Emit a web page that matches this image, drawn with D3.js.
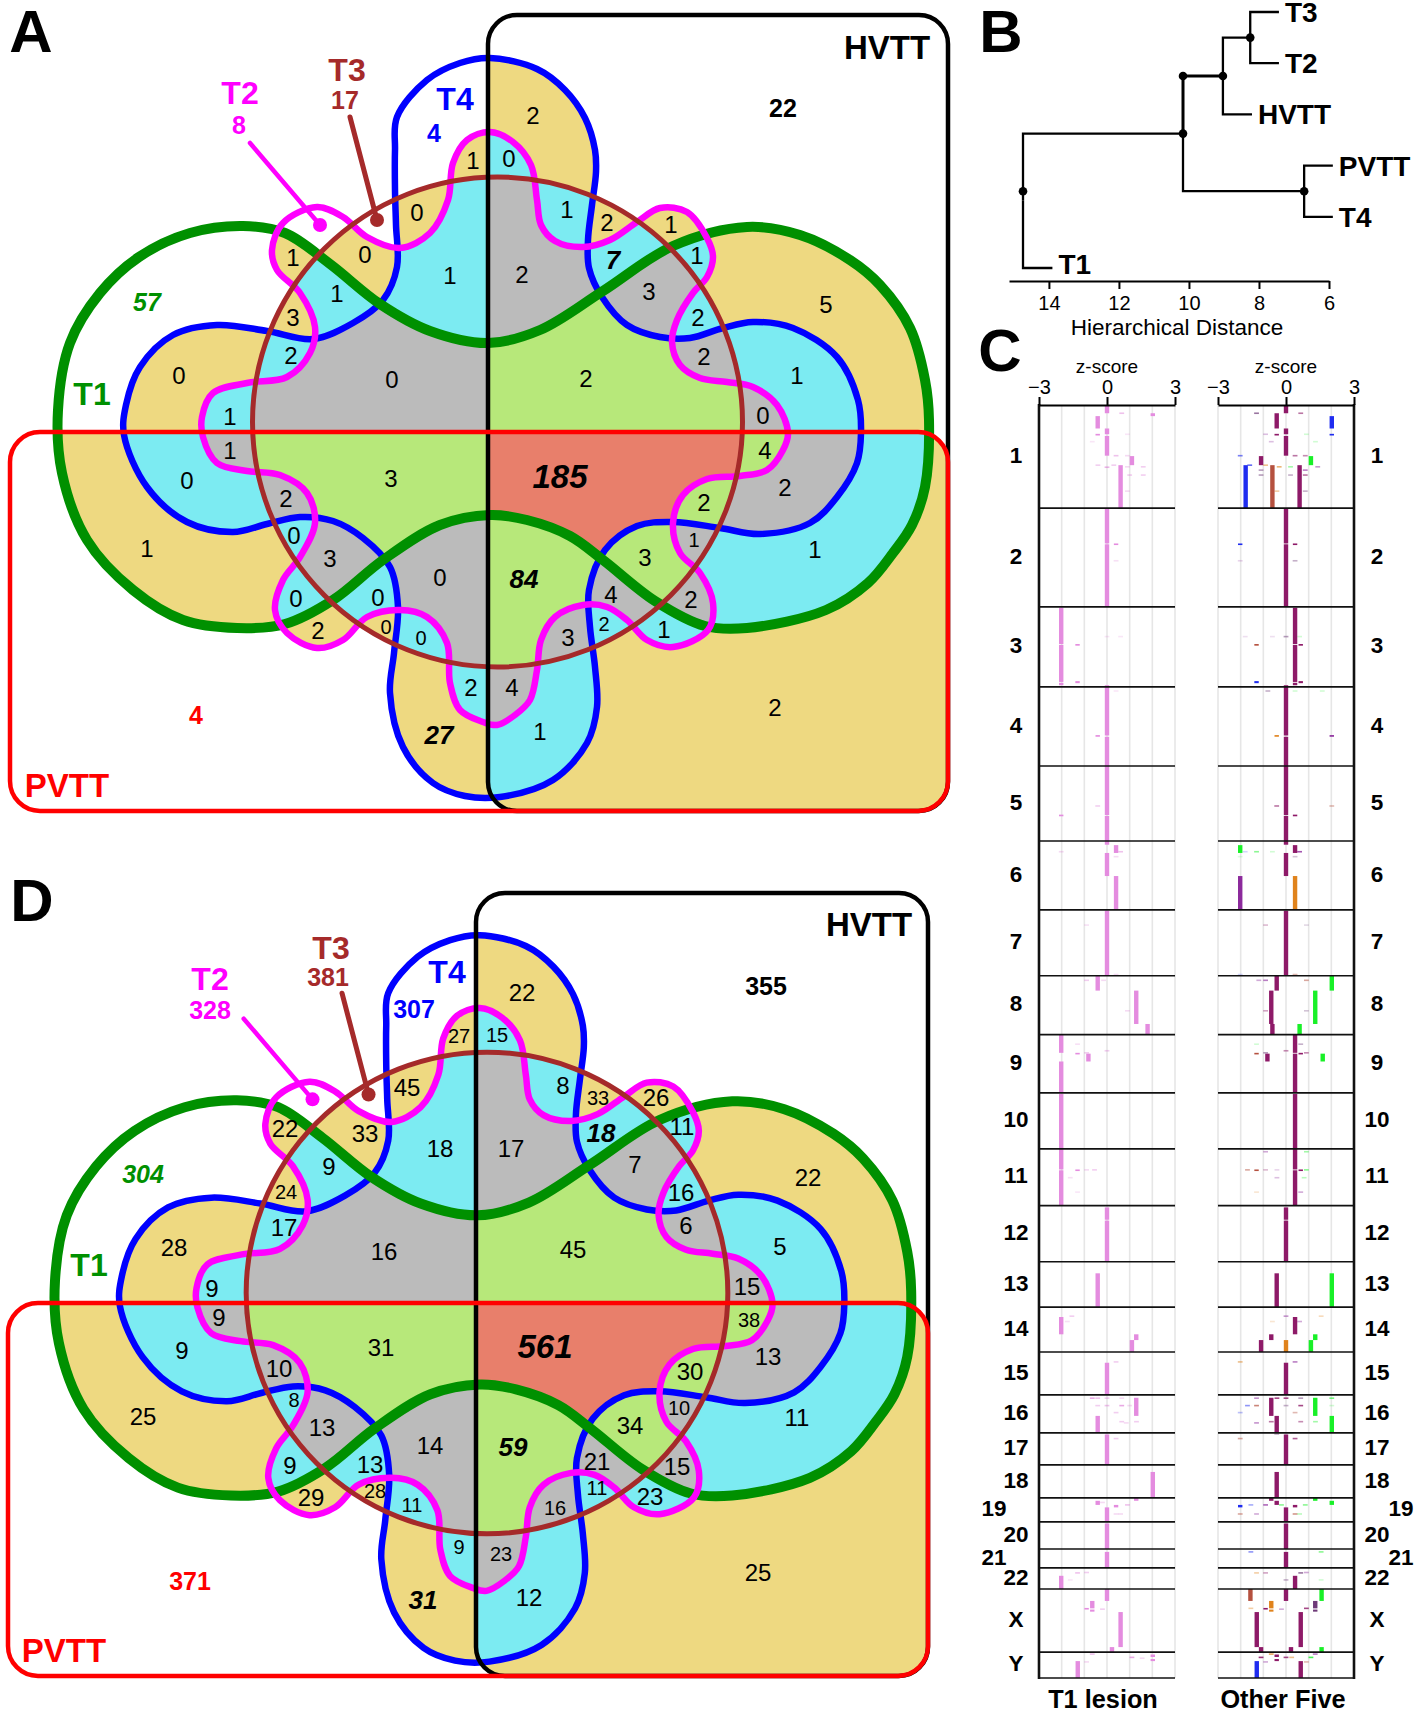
<!DOCTYPE html>
<html>
  <head>
    <meta charset="utf-8">
    <title>Venn, dendrogram and z-score profile</title>
    <script src="https://cdn.jsdelivr.net/npm/d3@7"></script>
    <style>
      body { margin: 0; background: #fff; }
      svg { display: block; }
      text { font-family: "Liberation Sans", Arial, sans-serif; }
    </style>
  </head>
  <body>
    <script>

      // ---- venn data ----
      var setNames = ["T1", "T2", "T3", "T4", "HVTT", "PVTT"];
      var setColors = ["#009000", "#ff00ff", "#a52a2a", "#0000ff", "#000000", "#ff0000"];
      var setCountsA = ["57", "8", "17", "4", "22", "4"];
      var setCountsD = ["304", "328", "381", "307", "355", "371"];

      var regionValuesA = ["1","0","0","1","1","1","3","2","0","0","1","1","0","3","2","0","3","1","0","0","0","2","0","0","2","27",
                           "2","0","1","2","1","1","7","3","2","2","5","2","1","2","0","4","185","2","2","1","1","3","84","4","2","2","1","3","4","1","2"];
      var regionValuesD = ["27","45","33","22","18","9","24","17","28","16","9","9","9","31","10","8","13","25","14","9","13","29","28","11","9","31",
                           "22","15","8","33","26","11","18","7","17","16","22","6","5","45","15","38","561","13","30","10","11","34","59","21","15","11","23","16","23","12","25"];

      // ---- dendrogram data ----
      var tree = { dist: 14.74, children: [
        { dist: 10.17, children: [
          { dist: 9.03, up: true, children: [
            { dist: 8.25, children: [{ name: "T3", dist: 7.43 }, { name: "T2", dist: 7.43 }] },
            { name: "HVTT", dist: 8.2 }
          ] },
          { dist: 6.71, children: [{ name: "PVTT", dist: 5.89 }, { name: "T4", dist: 5.89 }] }
        ] },
        { name: "T1", dist: 13.9 }
      ] };
      var distTicks = [14, 12, 10, 8, 6];

      // ---- genome data ----
      var chromNames = ["1","2","3","4","5","6","7","8","9","10","11","12","13","14","15","16","17","18","19","20","21","22","X","Y"];
      var chromMb = [250,240,194,192,182,167,160,143,141,136,138,136,110,109,104,92,78,80,58,66,46,51,153,63];
      var zTicks = [-3, 0, 3];

      // chrom, start Mb, end Mb, z
      var t1Bars = [
        ["1",2,20,0],["1",20,27,2.02],["1",27,57,-0.41],["1",57,71,0],["1",70,74,-0.41],["1",75,123,0],["1",124,146,1.1],["1",146,250,0.6],
        ["2",1,86,0],["2",88,240,0],["2",86,88,0.4],
        ["3",2,90,-2.02],["3",92,182,-2.02],["3",184,190,-2.02],["3",90,94,-1.3],["3",180,185,-1.3],["3",190,194,0],
        ["4",0,118,0],["4",117,121,-0.41],["4",121,192,0],
        ["5",0,119,0],["5",121,182,0],["5",118,122,-2.02],
        ["6",0,9,0],["6",10,29,0.4],["6",29,85,0],["6",85,167,0.4],
        ["7",2,160,0],
        ["8",0,36,-0.41],["8",36,117,1.29],["8",117,143,1.79],
        ["9",0,44,-2.02],["9",46,65,-0.82],["9",44,46,-1.3],["9",65,141,-2.02],
        ["10",3,136,-2.02],
        ["11",0,50,-2.02],["11",52,138,-2.02],["11",50,52,-1.3],
        ["12",4,34,0],["12",36,136,0],
        ["13",28,110,-0.41],
        ["14",24,66,-2.02],["14",66,80,1.29],["14",80,109,1.1],
        ["15",26,104,0],
        ["16",7,51,1.29],["16",51,92,-0.41],
        ["17",4,78,0],
        ["18",17,80,2.02],
        ["19",0,7,1.29],["19",7,17,-0.41],["19",17,23,0.4],["19",23,58,0],
        ["20",4,66,0],
        ["21",7,46,0],
        ["22",19,51,-2.02],
        ["X",0,29,0],["X",29,47,-0.65],["X",46,49,-0.9],["X",50,55,-0.65],["X",56,141,0.6],["X",141,153,0.22],
        ["Y",6,12,2.02],["Y",17,22,2.02],["Y",22,63,-1.29]
      ];
      // chrom, Mb, z, strength
      var t1Faint = [
        ["1",20,0.65,.5],["1",71,0.9,.2],["1",89,-0.65,.2],["1",123,0.4,.5],["1",123,0.9,.3],["1",146,-0.4,.4],["1",151,0,.6],["1",146,0.3,.4],["1",150,0.9,.3],["1",150,1.6,.4],["1",170,1.0,.4],["1",170,1.6,.4],["1",209,0.9,.3],
        ["2",128,0.4,.25],["3",72,0,.2],["3",72,0.6,.2],["4",10,0.4,.2],["5",97,-0.41,.4],["6",26,-2.02,.3],["6",26,0.6,.5],["6",38,0.4,.3],
        ["7",37,-0.9,.25],["7",157,0.4,.3],["8",11,-0.9,.4],["8",11,-0.15,.3],["8",85,0.9,.3],["9",23,-1.3,.25],["9",39,0,.4],["9",44,-0.9,.4],
        ["11",51,-0.9,.3],["11",51,-0.55,.4],["11",70,-1.62,.25],["11",105,-1.3,.2],["14",22,-1.55,.4],["14",35,-1.75,.25],["15",24,0.4,.4],
        ["16",8,-0.65,.7],["16",8,-0.41,.5],["16",8,0,.4],["16",8,0.65,.3],["16",26,-0.41,.4],["16",26,0,.5],["16",26,0.65,.7],["16",26,1.0,.3],["16",43,0.4,.4],["16",65,0.65,.4],["16",68,0.85,.3],["16",65,1.3,.4],
        ["17",14,0.4,.4],["19",11,-0.2,.3],["19",17,0.9,.5],["19",39,0.4,.3],["19",39,0.6,.3],
        ["22",12,-1.3,.5],["22",11,-0.9,.4],["22",29,-1.62,.2],["X",49,-0.2,.4],
        ["Y",5,-0.65,.5],["Y",13,1.1,.7],["Y",15,1.55,.3],["Y",24,-0.9,.3]
      ];

      // chrom, start Mb, end Mb, z, colour key
      var otherBars = [
        ["1",2,20,0,"m"],["1",20,57,-0.41,"m"],["1",27,57,2.02,"b"],["1",57,71,0,"m"],["1",70,74,-0.41,"m"],["1",70,74,2.02,"b"],["1",75,123,0,"m"],["1",124,146,-1.1,"m"],["1",124,146,1.1,"g"],["1",146,250,-1.78,"b"],["1",146,250,-0.6,"r"],["1",146,250,0.6,"m"],
        ["2",1,86,0,"m"],["2",88,240,0,"m"],["2",86,88,0.4,"m"],["2",86,88,-2.02,"b"],
        ["3",2,90,0.4,"m"],["3",92,182,0.4,"m"],["3",184,190,0.4,"m"],["3",90,94,-1.3,"r"],["3",90,94,0.65,"m"],["3",180,185,-1.3,"b"],["3",180,185,0.65,"m"],["3",190,194,0,"m"],
        ["4",0,118,0,"m"],["4",117,121,-0.41,"o"],["4",117,121,2.02,"p"],["4",121,192,0,"m"],
        ["5",0,119,0,"m"],["5",121,182,0,"m"],["5",118,122,0.4,"m"],
        ["6",0,9,0,"m"],["6",10,29,-2.02,"g"],["6",10,29,0.4,"m"],["6",29,85,0,"m"],["6",85,167,-2.02,"p"],["6",85,167,0.4,"o"],
        ["7",2,160,0,"m"],
        ["8",0,36,-0.41,"m"],["8",0,36,2.02,"g"],["8",36,117,-0.65,"m"],["8",36,117,1.29,"g"],["8",117,143,-0.6,"m"],["8",117,143,0.6,"g"],
        ["9",0,44,0.4,"m"],["9",46,141,0.4,"m"],["9",46,65,-0.82,"m"],["9",46,65,1.62,"g"],["9",44,46,-1.3,"r"],["9",44,46,0.65,"m"],
        ["10",3,136,0.4,"m"],
        ["11",0,50,0.4,"m"],["11",52,138,0.4,"m"],["11",50,52,0.65,"m"],["11",50,52,-1.3,"r"],
        ["12",4,34,0,"m"],["12",36,136,0,"m"],
        ["13",28,110,-0.41,"m"],["13",28,110,2.02,"g"],
        ["14",24,66,0.4,"m"],["14",66,80,-0.65,"m"],["14",66,80,1.29,"g"],["14",80,109,-1.1,"m"],["14",80,109,0,"o"],["14",80,109,1.1,"g"],
        ["15",26,104,0,"m"],
        ["16",7,51,-0.65,"m"],["16",7,51,1.29,"g"],["16",51,92,-0.41,"m"],["16",51,92,2.02,"g"],
        ["17",4,78,0,"m"],
        ["18",17,80,-0.41,"m"],
        ["19",0,7,-0.65,"m"],["19",0,7,1.29,"g"],["19",7,17,-0.41,"m"],["19",7,17,2.02,"g"],["19",17,23,-2.02,"b"],["19",17,23,0.4,"m"],["19",23,58,0,"m"],
        ["20",4,66,0,"m"],
        ["21",7,46,0,"m"],
        ["22",19,51,0.4,"m"],
        ["X",0,29,-1.57,"r"],["X",0,29,0,"m"],["X",0,29,1.57,"g"],["X",29,47,-0.65,"o"],["X",29,47,1.29,"d"],["X",46,49,-0.9,"m"],["X",50,55,-0.65,"o"],["X",50,55,1.29,"d"],["X",56,141,-1.29,"m"],["X",56,141,0.65,"m"],["X",141,153,-1.1,"m"],["X",141,153,0.22,"m"],["X",141,153,1.57,"g"],
        ["Y",6,12,-0.41,"m"],["Y",17,22,-0.41,"m"],["Y",22,63,-1.29,"b"],["Y",22,63,0.65,"m"]
      ];
      // chrom, Mb, z, colour key, strength
      var otherFaint = [
        ["1",20,-1.3,"d",.7],["1",20,0.65,"m",.6],["1",71,-0.9,"p",.3],["1",71,0.9,"g",.2],["1",89,-0.65,"p",.3],["1",89,1.3,"g",.2],["1",123,-2.02,"b",.6],["1",123,0.4,"m",.6],["1",123,0.85,"m",.5],["1",146,-1.6,"b",.7],["1",146,-0.9,"o",.5],["1",150,-0.3,"o",.6],["1",150,0.2,"g",.4],["1",150,1.4,"p",.5],["1",158,-1.1,"d",.5],["1",158,0.85,"p",.6],["1",170,-1.1,"d",.5],["1",170,0.2,"d",.4],["1",170,0.85,"m",.6],["1",209,-0.4,"o",.4],["1",209,0.85,"d",.4],
        ["2",128,-2.02,"p",.2],["2",128,0.4,"d",.4],["3",72,-1.8,"p",.15],["3",72,-0.6,"p",.15],["3",72,0,"d",.5],["3",72,0.6,"g",.2],["4",10,-0.8,"d",.4],["4",10,0.4,"g",.2],["4",10,1.6,"g",.2],
        ["5",97,-0.41,"m",.6],["5",97,2.02,"r",.4],["6",26,-1.8,"b",.2],["6",26,-1.3,"g",.5],["6",26,-0.6,"g",.2],["6",26,0.6,"p",.8],["6",38,-2.02,"g",.15],["6",38,0.4,"d",.3],
        ["7",37,-0.9,"m",.3],["7",37,0.9,"d",.2],["7",157,-2.02,"b",.2],["7",157,0.4,"r",.4],["8",11,-1.2,"p",.4],["8",11,-0.9,"p",.6],["8",11,0.9,"r",.5],["8",85,-0.9,"m",.4],["8",85,0.9,"d",.3],
        ["9",23,-1.3,"g",.2],["9",23,0.65,"d",.4],["9",39,0,"m",.5],["9",44,-0.9,"d",.5],["9",44,0.9,"m",.5],
        ["11",7,-0.9,"p",.4],["11",7,0.9,"g",.4],["11",51,-1.7,"r",.5],["11",51,-0.9,"m",.3],["11",51,-0.4,"p",.2],["11",51,0.9,"g",.5],["11",70,-0.4,"p",.3],["11",70,0.8,"g",.3],["11",105,-1.3,"o",.2],["11",105,0.65,"p",.4],
        ["14",22,0,"p",.5],["14",22,1.55,"o",.3],["14",35,-0.6,"o",.2],["14",35,0.6,"p",.4],["15",24,-2.02,"o",.5],["15",24,0.4,"p",.6],
        ["16",8,-1.3,"p",.5],["16",8,-0.4,"m",.8],["16",8,0,"m",.8],["16",8,0.65,"d",.5],["16",8,2.02,"g",.6],["16",26,-1.7,"b",.5],["16",26,-1.3,"r",.7],["16",26,0,"d",.4],["16",26,0.65,"m",.8],["16",26,2.02,"g",.2],["16",43,-2.02,"b",.3],["16",43,0.4,"r",.4],["16",68,-1.3,"p",.5],["16",65,-0.65,"m",.6],["16",65,0.65,"m",.5],["16",65,1.3,"g",.4],
        ["17",3,-0.41,"d",.4],["17",14,-2.02,"r",.5],["17",14,0.4,"m",.7],
        ["19",17,-1.55,"b",.4],["19",17,-0.9,"p",.7],["19",17,-0.2,"g",.5],["19",17,0.85,"g",.5],["19",39,-2.02,"r",.5],["19",39,-1.3,"p",.4],["19",39,0.4,"r",.6],["19",39,0.6,"g",.3],
        ["21",7,-1.55,"b",.5],["21",7,1.55,"g",.5],["22",12,-1.3,"o",.4],["22",12,-0.9,"m",.4],["22",12,0.65,"d",.7],["22",11,0.9,"p",.4],["22",29,0,"d",.4],["22",29,1.55,"g",.2],
        ["X",47,-1.55,"o",.4],["X",49,-0.2,"p",.4],["X",47,0.9,"m",.8],["Y",5,-0.65,"o",.7],["Y",5,1.29,"p",.6],["Y",13,-1.1,"m",.9],["Y",13,0,"m",.8],["Y",13,0.25,"o",.5],["Y",13,1.1,"g",.8],["Y",24,-0.9,"p",.4],["Y",24,0.9,"r",.4]
      ];
      var otherColors = { m: "#8e1a68", g: "#19f028", b: "#1f2cf0", o: "#e0831c", p: "#8c2a9c", r: "#b5513f", d: "#6e3a78" };

      // ---- venn geometry, in the pixel space of panel A ----
      var t1Outline = [[243,226],[285,233],[330,264],[380,304],[430,331],[488,343],[540,330],[603,291],[673,246],[747,227],[800,235],[850,260],[880,285],[910,328],[925,380],[929,420],[925,487],[912,525],[893,553],[868,583],[826,610],[747,628],[705,626],[655,601],[603,560],[570,536],[527,520],[490,515],[440,525],[383,560],[333,600],[285,624],[237,628],[183,620],[133,590],[87,540],[62,473],[58,410],[70,343],[100,293],[139,257],[190,233]];
      var t4Outline = [[490,58],[537,69],[565,90],[585,118],[595,150],[596,172],[592,205],[588,240],[589,268],[602,297],[627,325],[660,337],[690,338],[723,328],[753,322],[793,328],[837,357],[858,400],[861,433],[857,463],[837,497],[810,523],[760,534],[720,528],[673,522],[637,526],[605,550],[589,590],[590,627],[595,667],[597,707],[587,743],[553,780],[500,797],[465,796],[433,783],[403,747],[390,693],[394,653],[398,607],[390,567],[363,538],[333,521],[300,517],[267,524],[233,532],[187,522],[147,487],[124,435],[126,405],[140,367],[173,335],[217,325],[267,331],[313,339],[353,323],[383,300],[397,267],[396,225],[395,190],[395,150],[397,117],[427,80],[460,63]];
      var t2Outline = [[490,132],[513,142],[531,165],[537,200],[541,225],[555,241],[583,247],[610,240],[637,222],[660,208],[687,212],[707,238],[713,257],[707,277],[693,293],[677,320],[672,342],[680,365],[700,378],[727,382],[753,387],[777,405],[788,433],[783,450],[767,470],[740,476],[707,479],[683,495],[673,523],[680,553],[700,573],[713,603],[708,630],[673,647],[647,640],[627,620],[607,607],[583,605],[555,617],[541,640],[537,670],[530,700],[515,715],[497,725],[483,722],[460,710],[450,683],[447,643],[427,617],[400,610],[367,617],[343,640],[317,648],[287,633],[275,610],[283,580],[300,557],[315,523],[307,493],[280,475],[247,471],[217,463],[203,437],[202,417],[213,393],[247,383],[287,377],[310,353],[315,327],[300,293],[277,270],[272,250],[283,223],[317,207],[343,217],[367,237],[400,248],[430,233],[448,200],[453,163],[467,140]];
      var t3Circle = { cx: 497.5, cy: 422, r: 245 };
      var t2Pointer = [[250,143],[320,225]];
      var t3Pointer = [[350,117],[377,220]];

      // panel frames in their own pixel space: left, top, right, bottom
      var hvttBoxA = [488, 15, 948, 811];
      var pvttBoxA = [10, 432, 948, 811];
      var hvttBoxD = [476, 893, 928, 1676];
      var pvttBoxD = [8, 1303, 928, 1676];

      // label anchors, same order as the values above: x, y, kind
      var regionAnchorsA = [[473,160,"n"],[417,212,"n"],[365,254,"n"],[293,257,"n"],[450,275,"n"],[337,293,"n"],[293,317,"n"],[291,355,"n"],[179,375,"n"],[392,379,"n"],[230,416,"n"],[230,450,"n"],[187,480,"n"],[391,478,"n"],[286,498,"n"],[294,535,"n"],[330,558,"n"],[147,548,"n"],[440,577,"n"],[296,598,"n"],[378,597,"n"],[318,630,"n"],[386,627,"s"],[421,638,"s"],[471,687,"n"],[439,735,"b"],
        [533,115,"n"],[509,158,"n"],[567,209,"n"],[607,222,"n"],[671,224,"n"],[697,255,"n"],[613,260,"b"],[649,291,"n"],[522,274,"n"],[698,317,"n"],[826,304,"n"],[704,356,"n"],[797,375,"n"],[586,378,"n"],[763,415,"n"],[765,450,"n"],[560,476,"B"],[785,487,"n"],[704,502,"n"],[694,540,"s"],[815,549,"n"],[645,557,"n"],[524,579,"b"],[611,594,"n"],[691,599,"n"],[604,624,"s"],[664,629,"n"],[568,637,"n"],[512,687,"n"],[540,731,"n"],[775,707,"n"]];
      var regionAnchorsD = [[459,1036,"s"],[407,1087,"n"],[365,1133,"n"],[285,1128,"n"],[440,1148,"n"],[329,1166,"n"],[286,1192,"s"],[284,1227,"n"],[174,1247,"n"],[384,1251,"n"],[212,1288,"n"],[219,1317,"n"],[182,1350,"n"],[381,1347,"n"],[279,1368,"n"],[294,1400,"s"],[322,1427,"n"],[143,1416,"n"],[430,1445,"n"],[290,1465,"n"],[370,1464,"n"],[311,1497,"n"],[375,1491,"s"],[412,1505,"s"],[459,1547,"s"],[423,1600,"b"],
        [522,992,"n"],[497,1035,"s"],[563,1085,"n"],[598,1098,"s"],[656,1097,"n"],[682,1126,"n"],[601,1133,"b"],[635,1164,"n"],[511,1148,"n"],[681,1192,"n"],[808,1177,"n"],[686,1225,"n"],[780,1246,"n"],[573,1249,"n"],[747,1286,"n"],[749,1320,"s"],[545,1346,"B"],[768,1356,"n"],[690,1371,"n"],[679,1408,"s"],[797,1417,"n"],[630,1425,"n"],[513,1447,"b"],[597,1461,"n"],[677,1466,"n"],[597,1488,"s"],[650,1496,"n"],[555,1508,"s"],[501,1554,"s"],[529,1597,"n"],[758,1572,"n"]];
      var nameAnchorsA = [[92,393],[240,92],[347,69],[455,98],[887,47],[67,785]];
      var countAnchorsA = [[147,302],[239,125],[345,100],[434,133],[783,108],[196,715]];
      var nameAnchorsD = [[89,1264],[210,978],[331,947],[447,971],[869,924],[64,1650]];
      var countAnchorsD = [[143,1174],[210,1010],[328,977],[414,1009],[766,986],[190,1581]];

      var regionFills = ["#ffffff", "#ffffff", "#eed982", "#7cebf2", "#bbbbbb", "#b8e87a", "#e87f6b"];
      var setAlpha = 0.3;
      var kindFont = {
        n: { size: 24, weight: "normal", style: "normal" },
        s: { size: 20, weight: "normal", style: "normal" },
        b: { size: 26, weight: "bold", style: "italic" },
        B: { size: 33, weight: "bold", style: "italic" }
      };

      var svg = d3.select("body").append("svg").attr("width", 1418).attr("height", 1711);
      var defs = svg.append("defs");

      function panelLetter(t, x, y) {
        svg.append("text").attr("x", x).attr("y", y).attr("text-anchor", "middle")
          .attr("font-size", 60).attr("font-weight", "bold").text(t);
      }

      function roundBox(b, r) {
        var p = d3.path();
        p.moveTo(b[0] + r, b[1]);
        p.arcTo(b[2], b[1], b[2], b[3], r);
        p.arcTo(b[2], b[3], b[0], b[3], r);
        p.arcTo(b[0], b[3], b[0], b[1], r);
        p.arcTo(b[0], b[1], b[2], b[1], r);
        p.closePath();
        return p.toString();
      }

      // the regions are coloured by how many sets overlap: alpha piles up, the filter turns it into a colour
      function depthFilter(id, region) {
        var levels = d3.range(0, 7).map(function(n) { return 1 - Math.pow(1 - setAlpha, n); });
        var steps = 256;
        function table(channel) {
          return d3.range(steps).map(function(i) {
            var a = (i + 0.5) / steps;
            var n = d3.leastIndex(levels, function(p, q) { return Math.abs(p - a) - Math.abs(q - a); });
            return d3.rgb(regionFills[n])[channel] / 255;
          }).join(" ");
        }
        var f = defs.append("filter").attr("id", id)
          .attr("filterUnits", "userSpaceOnUse")
          .attr("x", region[0]).attr("y", region[1]).attr("width", region[2]).attr("height", region[3])
          .attr("color-interpolation-filters", "sRGB");
        f.append("feColorMatrix").attr("type", "matrix")
          .attr("values", "0 0 0 1 0  0 0 0 1 0  0 0 0 1 0  0 0 0 0 1");
        var t = f.append("feComponentTransfer");
        t.append("feFuncR").attr("type", "discrete").attr("tableValues", table("r"));
        t.append("feFuncG").attr("type", "discrete").attr("tableValues", table("g"));
        t.append("feFuncB").attr("type", "discrete").attr("tableValues", table("b"));
      }

      function drawVenn(o) {
        var x = d3.scaleLinear().domain([t3Circle.cx, t3Circle.cx + 100]).range([o.cx, o.cx + 100 * o.k]);
        var y = d3.scaleLinear().domain([t3Circle.cy, t3Circle.cy + 100]).range([o.cy, o.cy + 100 * o.k]);
        var outline = d3.line().x(function(d) { return x(d[0]); }).y(function(d) { return y(d[1]); })
          .curve(d3.curveCatmullRomClosed.alpha(0.5));
        var straight = d3.line().x(function(d) { return x(d[0]); }).y(function(d) { return y(d[1]); });
        var rad = t3Circle.r * o.k;

        var t1 = outline(t1Outline), t2 = outline(t2Outline), t4 = outline(t4Outline);
        var hv = roundBox(o.hvtt, 29), pv = roundBox(o.pvtt, 30);

        depthFilter(o.id, o.region);
        var fills = svg.append("g").attr("filter", "url(#" + o.id + ")");
        fills.selectAll("path").data([t1, t2, t4, hv, pv]).enter().append("path")
          .attr("d", function(d) { return d; }).attr("fill", "#000").attr("fill-opacity", setAlpha);
        fills.append("circle").attr("cx", o.cx).attr("cy", o.cy).attr("r", rad)
          .attr("fill", "#000").attr("fill-opacity", setAlpha);

        function stroke(d, c, w) {
          svg.append("path").attr("d", d).attr("fill", "none").attr("stroke", c).attr("stroke-width", w);
        }
        stroke(t4, setColors[3], 6.5);
        stroke(t1, setColors[0], 10);
        stroke(t2, setColors[1], 6.5);
        svg.append("path").attr("d", straight(t2Pointer)).attr("stroke", setColors[1]).attr("stroke-width", 4.5).attr("stroke-linecap", "round");
        svg.append("circle").attr("cx", x(t2Pointer[1][0])).attr("cy", y(t2Pointer[1][1])).attr("r", 7).attr("fill", setColors[1]);
        svg.append("path").attr("d", straight(t3Pointer)).attr("stroke", setColors[2]).attr("stroke-width", 5).attr("stroke-linecap", "round");
        svg.append("circle").attr("cx", x(t3Pointer[1][0])).attr("cy", y(t3Pointer[1][1])).attr("r", 7).attr("fill", setColors[2]);
        svg.append("circle").attr("cx", o.cx).attr("cy", o.cy).attr("r", rad)
          .attr("fill", "none").attr("stroke", setColors[2]).attr("stroke-width", 5);
        stroke(hv, setColors[4], 4.5);
        stroke(pv, setColors[5], 4.5);

        svg.append("g").selectAll("text").data(o.values).enter().append("text")
          .attr("x", function(d, i) { return o.anchors[i][0]; })
          .attr("y", function(d, i) { return o.anchors[i][1]; })
          .attr("dy", "0.36em").attr("text-anchor", "middle")
          .attr("font-size", function(d, i) { return kindFont[o.anchors[i][2]].size; })
          .attr("font-weight", function(d, i) { return kindFont[o.anchors[i][2]].weight; })
          .attr("font-style", function(d, i) { return kindFont[o.anchors[i][2]].style; })
          .text(function(d) { return d; });

        svg.append("g").selectAll("text").data(setNames).enter().append("text")
          .attr("x", function(d, i) { return o.names[i][0]; })
          .attr("y", function(d, i) { return o.names[i][1]; })
          .attr("dy", "0.36em").attr("text-anchor", "middle")
          .attr("font-size", function(d, i) { return d === "HVTT" || d === "PVTT" ? 33 : 32; })
          .attr("font-weight", "bold")
          .attr("fill", function(d, i) { return setColors[i]; })
          .text(function(d) { return d; });

        svg.append("g").selectAll("text").data(o.counts).enter().append("text")
          .attr("x", function(d, i) { return o.countAt[i][0]; })
          .attr("y", function(d, i) { return o.countAt[i][1]; })
          .attr("dy", "0.36em").attr("text-anchor", "middle")
          .attr("font-size", 25).attr("font-weight", "bold")
          .attr("font-style", function(d, i) { return i === 0 ? "italic" : "normal"; })
          .attr("fill", function(d, i) { return setColors[i]; })
          .text(function(d) { return d; });
      }

      drawVenn({ id: "depthA", region: [0, 0, 965, 822], cx: 497.5, cy: 422, k: 1, hvtt: hvttBoxA, pvtt: pvttBoxA,
        values: regionValuesA, anchors: regionAnchorsA, names: nameAnchorsA, counts: setCountsA, countAt: countAnchorsA });
      drawVenn({ id: "depthD", region: [0, 822, 965, 880], cx: 487, cy: 1293, k: 0.983, hvtt: hvttBoxD, pvtt: pvttBoxD,
        values: regionValuesD, anchors: regionAnchorsD, names: nameAnchorsD, counts: setCountsD, countAt: countAnchorsD });
      panelLetter("A", 31, 52);
      panelLetter("D", 32, 921);

      // ---- panel B ----
      panelLetter("B", 1001, 52);
      var xDist = d3.scaleLinear().domain([15.14, 6]).range([1009, 1329]);
      var root = d3.hierarchy(tree);
      var leafNames = root.leaves().map(function(d) { return d.data.name; });
      var yLeaf = d3.scalePoint().domain(leafNames).range([12, 268]);
      root.eachAfter(function(n) {
        n.px = xDist(n.data.dist);
        n.py = n.children ? d3.mean(n.children, function(c) { return c.py; }) : yLeaf(n.data.name);
      });
      var gB = svg.append("g");
      root.descendants().forEach(function(n) {
        if (!n.children) return;
        n.children.forEach(function(c) {
          gB.append("path")
            .attr("d", d3.line()([[n.px, n.py], [n.px, c.py], [c.px, c.py]]))
            .attr("fill", "none").attr("stroke", "#000")
            .attr("stroke-width", c.data.up ? 3 : 2.3);
        });
      });
      var inner = root.descendants().filter(function(n) { return n.children; });
      gB.selectAll(".node").data(inner).enter().append("circle").attr("class", "node")
        .attr("cx", function(d) { return d.px; })
        // the root dot sits level with the PVTT/T4 branch in the figure
        .attr("cy", function(d) { return d.depth === 0 ? d.children[0].children[1].py : d.py; })
        .attr("r", 4.3);
      // second dot where the upper branch leaves its parent
      gB.selectAll(".joint").data(inner.filter(function(n) { return n.data.up; })).enter().append("circle").attr("class", "joint")
        .attr("cx", function(d) { return d.parent.px; })
        .attr("cy", function(d) { return d.py; })
        .attr("r", 4.3);
      gB.selectAll("text").data(root.leaves()).enter().append("text")
        .attr("x", function(d) { return d.px + 6; })
        .attr("y", function(d) { return d.py; })
        .attr("dy", function(d) { return d.data.name === "T1" ? "0.2em" : "0.36em"; })
        .attr("font-size", 28).attr("font-weight", "bold")
        .text(function(d) { return d.data.name; });
      var axisB = svg.append("g").attr("transform", "translate(0,281)")
        .call(d3.axisBottom(xDist).tickValues(distTicks).tickSize(8).tickSizeOuter(0).tickFormat(d3.format("d")));
      axisB.select(".domain").attr("stroke-width", 2);
      axisB.selectAll(".tick line").attr("stroke-width", 2);
      axisB.selectAll(".tick text").attr("font-size", 20).attr("font-family", "Liberation Sans").attr("y", 15);
      svg.append("text").attr("x", 1177).attr("y", 327).attr("dy", "0.36em").attr("text-anchor", "middle")
        .attr("font-size", 22.5).text("Hierarchical Distance");

      // ---- panel C ----
      panelLetter("C", 1000, 371);
      var chromStart = d3.cumsum([0].concat(chromMb));
      var yGenome = d3.scaleLinear().domain([0, d3.sum(chromMb)]).range([405, 1678]);
      function mbY(chrom, mb) { return yGenome(chromStart[chromNames.indexOf(chrom)] + mb); }

      function drawProfile(o) {
        var x = d3.scaleLinear().domain([-3, 3]).range(o.range);
        var g = svg.append("g");
        g.selectAll(".grid").data(d3.range(-3, 4)).enter().append("line").attr("class", "grid")
          .attr("x1", x).attr("x2", x).attr("y1", yGenome(0)).attr("y2", yGenome.range()[1])
          .attr("stroke", "#e6e6e6").attr("stroke-width", 1.6);

        g.selectAll(".faint").data(o.faint).enter().append("rect").attr("class", "faint")
          .attr("x", function(d) { return x(d[2]) - 2.4; }).attr("width", 4.8)
          .attr("y", function(d) { return mbY(d[0], d[1]) - 0.8; }).attr("height", 1.6)
          .attr("fill", function(d) { return o.faintColor(d); })
          .attr("opacity", function(d) { return o.faintOpacity(d); });

        g.selectAll(".bar").data(o.bars).enter().append("rect").attr("class", "bar")
          .attr("x", function(d) { return x(d[3]) - 2.2; }).attr("width", 4.4)
          .attr("y", function(d) { return mbY(d[0], d[1]); })
          .attr("height", function(d) { return Math.max(1.6, mbY(d[0], d[2]) - mbY(d[0], d[1])); })
          .attr("fill", o.barColor);

        g.selectAll(".sep").data(chromNames).enter().append("line").attr("class", "sep")
          .attr("x1", x(-3)).attr("x2", x(3))
          .attr("y1", function(d) { return mbY(d, chromMb[chromNames.indexOf(d)]); })
          .attr("y2", function(d) { return mbY(d, chromMb[chromNames.indexOf(d)]); })
          .attr("stroke", "#111").attr("stroke-width", 1.7);

        g.append("line").attr("x1", x(o.spine)).attr("x2", x(o.spine))
          .attr("y1", yGenome(0) - 1).attr("y2", yGenome.range()[1] + 1)
          .attr("stroke", "#111").attr("stroke-width", 2.6);

        var axis = g.append("g").attr("transform", "translate(0,405)")
          .call(d3.axisTop(x).tickValues(zTicks).tickSize(8).tickSizeOuter(0).tickFormat(d3.format("d")));
        axis.select(".domain").attr("stroke-width", 2);
        axis.selectAll(".tick line").attr("stroke-width", 2);
        axis.selectAll(".tick text").attr("font-size", 20).attr("font-family", "Liberation Sans").attr("y", -11);

        g.append("text").attr("x", x(0)).attr("y", 366).attr("dy", "0.36em").attr("text-anchor", "middle")
          .attr("font-size", 19).text("z-score");
        g.append("text").attr("x", x(0) + o.titleShift).attr("y", 1699).attr("dy", "0.36em").attr("text-anchor", "middle")
          .attr("font-size", 25.3).attr("font-weight", "bold").text(o.title);

        g.selectAll(".chrom").data(chromNames).enter().append("text").attr("class", "chrom")
          .attr("x", function(d) { return d === "19" || d === "21" ? o.labelNudged : o.labelX; })
          .attr("y", function(d, i) { return mbY(d, chromMb[i] / 2) - 2; })
          .attr("dy", "0.36em").attr("text-anchor", "middle")
          .attr("font-size", 22.5).attr("font-weight", "bold").text(function(d) { return d; });
      }

      drawProfile({ range: [1039, 1175], spine: -3, labelX: 1016, labelNudged: 994, title: "T1 lesion", titleShift: -4,
        bars: t1Bars, faint: t1Faint, barColor: "#e48cdf",
        faintColor: function() { return "#d24fc8"; }, faintOpacity: function(d) { return d[3] * 0.7; } });
      drawProfile({ range: [1218, 1354], spine: 3, labelX: 1377, labelNudged: 1401, title: "Other Five", titleShift: -3,
        bars: otherBars, faint: otherFaint, barColor: function(d) { return otherColors[d[4]]; },
        faintColor: function(d) { return otherColors[d[3]]; }, faintOpacity: function(d) { return d[4]; } });

    </script>
  </body>
</html>
